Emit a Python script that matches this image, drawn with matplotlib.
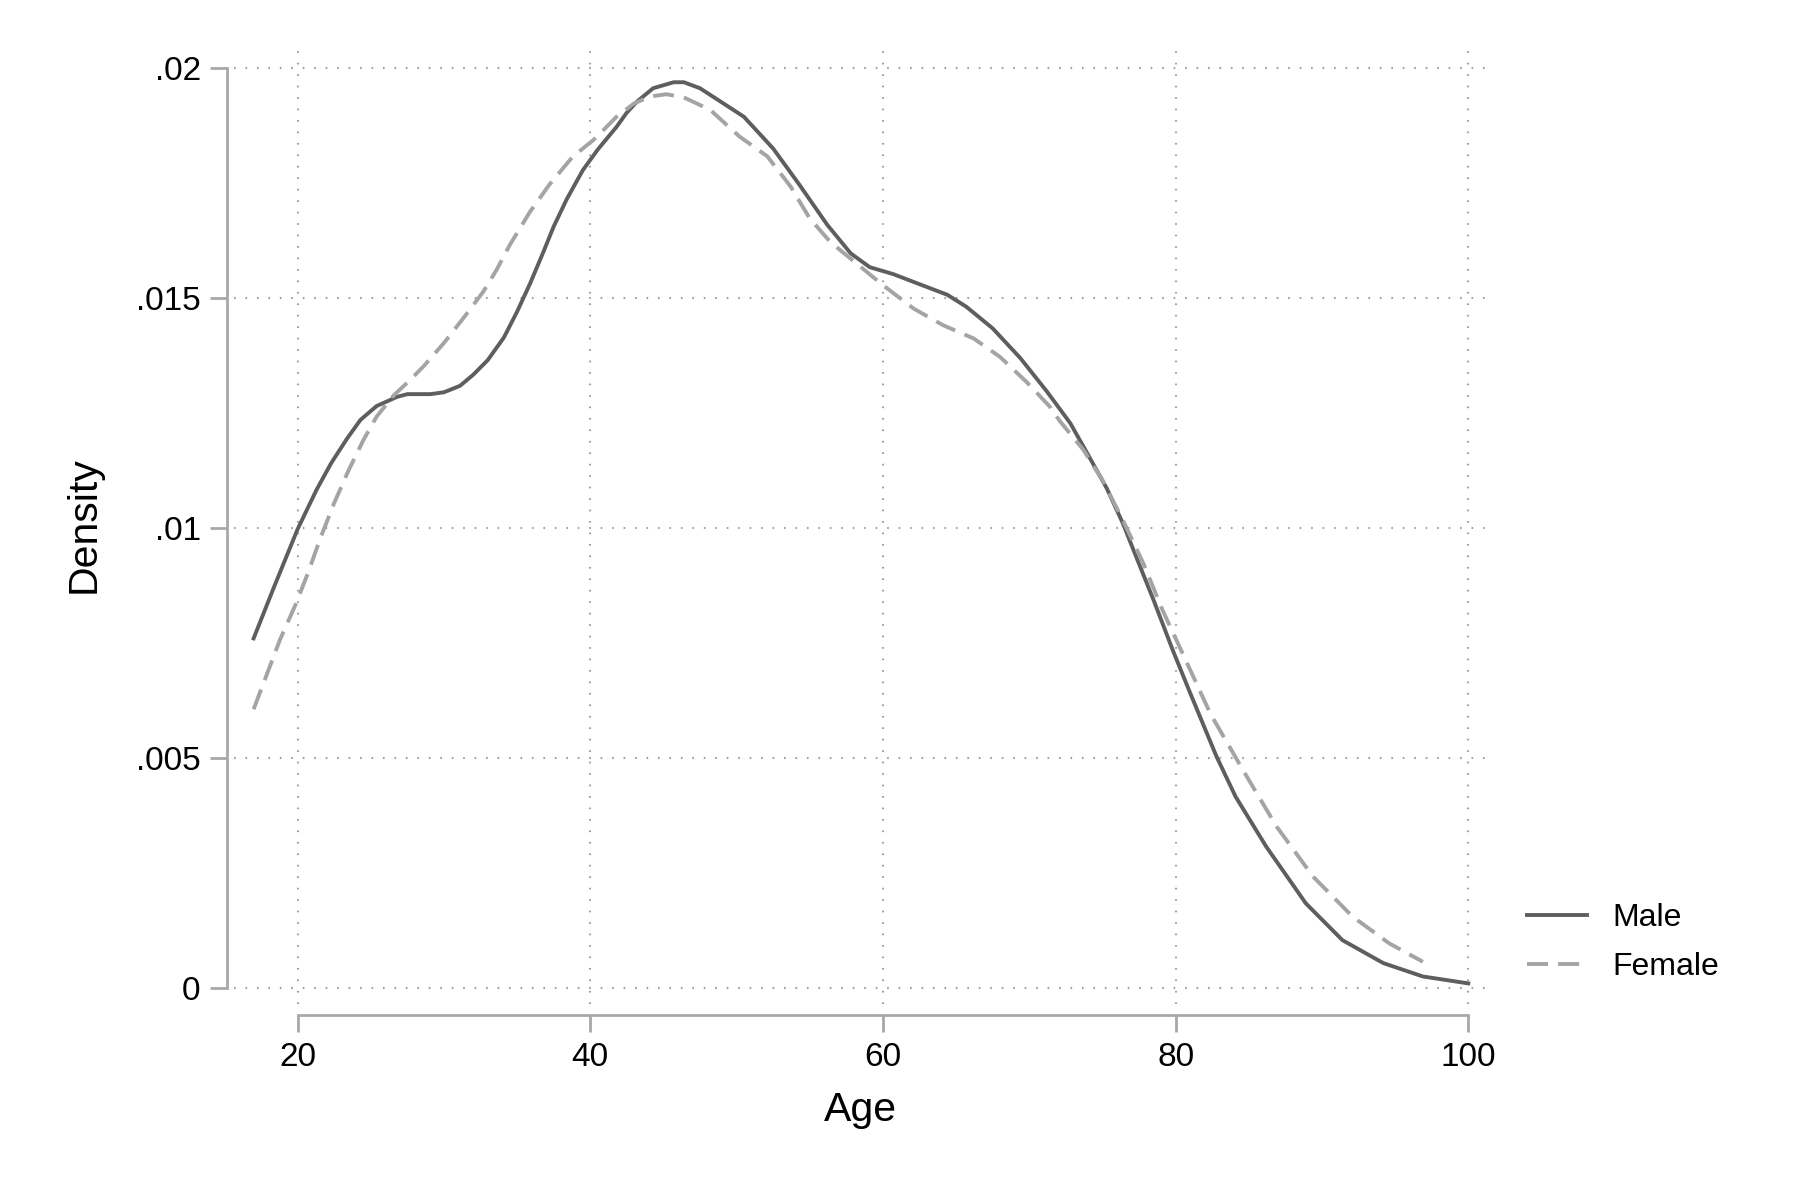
import matplotlib
matplotlib.use('Agg')
import matplotlib.pyplot as plt

plt.rcParams['font.family'] = ['Liberation Sans', 'DejaVu Sans']

# Kernel density estimates (age, density)
male_age = [17.0, 18.4, 20.0, 21.3, 22.3, 23.4, 24.3, 25.4, 26.8, 27.5, 29.1, 30.0,
            31.1, 32.0, 33.0, 34.1, 35.0, 35.9, 36.8, 37.5, 38.4, 39.5, 40.5, 41.8,
            42.5, 43.2, 44.3, 45.7, 46.4, 47.5, 49.1, 50.5, 52.5, 54.3, 56.2, 57.8,
            59.1, 60.7, 62.5, 64.4, 65.7, 67.5, 69.4, 71.2, 72.8, 73.9, 75.3, 76.4,
            77.3, 78.5, 79.8, 81.0, 82.8, 84.1, 86.2, 88.9, 91.4, 94.2, 96.9, 100.0]
male_density = [0.0076, 0.00872, 0.00997, 0.01083, 0.01141, 0.01195, 0.01235, 0.01265,
                0.01285, 0.01291, 0.01291, 0.01295, 0.01309, 0.01333, 0.01365, 0.01414,
                0.0147, 0.01532, 0.0160, 0.01655, 0.01715, 0.01778, 0.01822, 0.01872,
                0.01903, 0.01927, 0.01956, 0.01969, 0.01969, 0.01956, 0.01923, 0.01894,
                0.01825, 0.01746, 0.01659, 0.01597, 0.01567, 0.01552, 0.0153, 0.01507,
                0.01481, 0.01434, 0.01369, 0.01297, 0.01228, 0.01166, 0.01086, 0.0101,
                0.00938, 0.00843, 0.00735, 0.00641, 0.00503, 0.00416, 0.00307, 0.00184,
                0.00104, 0.00054, 0.00025, 0.0001]

female_age = [17.0, 18.8, 19.9, 20.7, 21.6, 22.5, 23.5, 24.5, 25.4, 26.6, 27.7, 28.6,
              30.0, 31.4, 32.7, 33.6, 34.5, 35.9, 37.2, 38.8, 40.2, 40.9, 41.8, 43.0,
              44.1, 45.2, 46.4, 48.2, 50.2, 52.1, 53.7, 55.0, 56.4, 58.2, 60.0, 62.1,
              64.1, 66.2, 68.0, 69.8, 71.4, 72.1, 73.7, 75.0, 76.4, 77.8, 79.1, 80.7,
              82.4, 84.6, 86.9, 89.4, 92.1, 94.6, 96.9]
female_density = [0.00606, 0.00757, 0.00836, 0.00901, 0.00981, 0.01054, 0.01126, 0.01191,
                  0.01242, 0.01289, 0.01322, 0.01351, 0.01402, 0.01459, 0.01514, 0.01561,
                  0.01615, 0.01688, 0.01746, 0.01807, 0.01843, 0.01865, 0.01894, 0.01923,
                  0.01938, 0.01943, 0.01936, 0.01909, 0.01851, 0.01808, 0.01742, 0.01673,
                  0.01622, 0.01575, 0.01528, 0.01477, 0.01441, 0.01412, 0.01372, 0.01318,
                  0.01264, 0.01232, 0.0117, 0.01104, 0.01017, 0.00923, 0.00822, 0.00712,
                  0.00595, 0.00474, 0.00351, 0.00242, 0.00155, 0.00097, 0.00057]

x_ticks = [20, 40, 60, 80, 100]
y_ticks = [0, 0.005, 0.01, 0.015, 0.02]
y_tick_labels = ['0', '.005', '.01', '.015', '.02']

axis_grey = '#a8a8a8'

fig = plt.figure(figsize=(18, 12), dpi=100)
ax = fig.add_axes([234 / 1800, 196 / 1200, 1253 / 1800, 958 / 1200])

ax.plot(male_age, male_density, color='#5e5e5e', lw=2.8, label='Male')
ax.plot(female_age, female_density, color='#a4a4a4', lw=2.8, dashes=(5.4, 2.6), label='Female')

ax.set_xlim(15.66, 101.28)
ax.set_ylim(-0.000348, 0.020478)

ax.set_xticks(x_ticks)
ax.set_xticklabels([str(t) for t in x_ticks])
ax.set_yticks(y_ticks)
ax.set_yticklabels(y_tick_labels)

# Stata-like dotted grid
ax.grid(True, color='#a0a0a0', linestyle=(0, (0.8, 4.7)), linewidth=1.5)

for side in ['top', 'right']:
    ax.spines[side].set_visible(False)
ax.spines['left'].set_position(('outward', 5))
ax.spines['bottom'].set_position(('outward', 8))
ax.spines['left'].set_bounds(0, 0.02)
ax.spines['bottom'].set_bounds(20, 100)
for side in ['left', 'bottom']:
    ax.spines[side].set_color(axis_grey)
    ax.spines[side].set_linewidth(2)

ax.tick_params(axis='both', length=12, width=2, color=axis_grey, labelsize=24, pad=7)

ax.set_xlabel('Age', fontsize=29.5, labelpad=13)
ax.set_ylabel('Density', fontsize=29.5, labelpad=24)

ax.legend(loc='center left', bbox_to_anchor=(1527 / 1800, 1 - 942.5 / 1200),
          bbox_transform=fig.transFigure, frameon=False, borderpad=0, borderaxespad=0,
          handlelength=1.87, handletextpad=0.8, labelspacing=0.6, fontsize=23)

fig.savefig('out.png', dpi=100, facecolor='white')
